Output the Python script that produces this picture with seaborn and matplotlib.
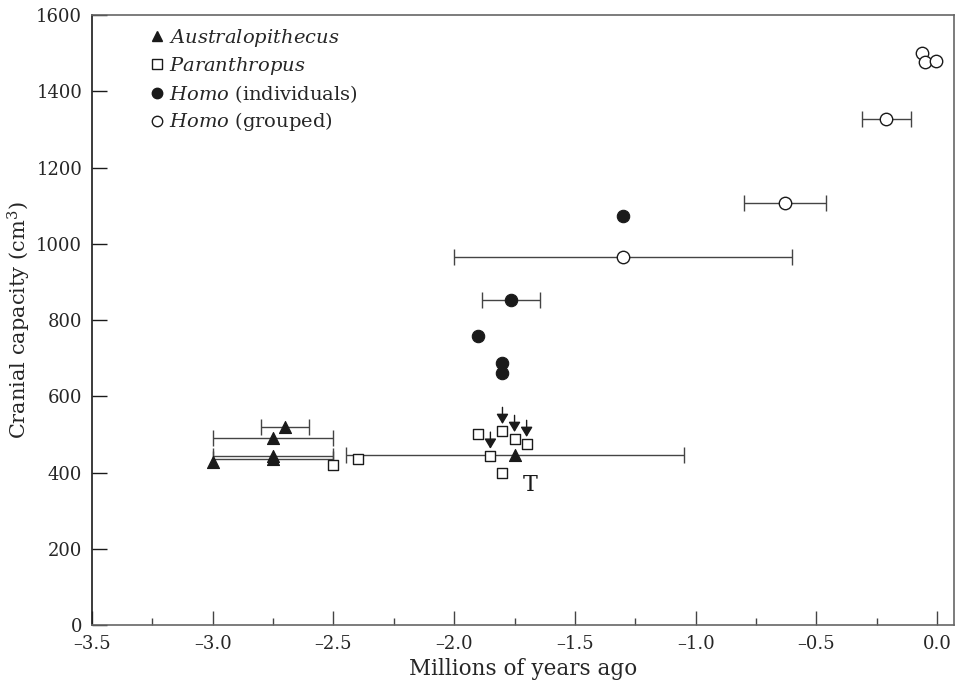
import numpy as np
import pandas as pd
import seaborn as sns
import matplotlib.pyplot as plt
from matplotlib.lines import Line2D
from matplotlib.ticker import MultipleLocator

# --- data (millions of years ago, cm3) ---
austr_x = [-2.70, -2.75, -2.75, -2.75, -3.00, -1.75]
austr_y = [520, 490, 443, 436, 428, 446]
austr_err = [0.10, 0.25, 0.25, 0.25, 0.0, 0.70]

paran_x = [-2.50, -2.40, -1.90, -1.85, -1.80, -1.75, -1.70, -1.80]
paran_y = [420, 435, 501, 444, 509, 488, 475, 399]
paran_arrow = [False, False, False, True, True, True, True, False]

homo_ind_x = [-1.765, -1.90, -1.80, -1.80, -1.30]
homo_ind_y = [853, 758, 687, 661, 1073]
homo_ind_err = [0.12, 0.0, 0.0, 0.0, 0.0]

homo_grp_x = [-1.30, -0.63, -0.21, -0.062, -0.05, -0.004]
homo_grp_y = [966, 1107, 1328, 1501, 1478, 1480]
homo_grp_err = [0.70, 0.17, 0.10, 0.0, 0.0, 0.0]

t_label_idx = 5  # the Australopithecus point marked "T"

sns.set_theme(style="ticks")
plt.rcParams['font.family'] = ['DejaVu Serif']
plt.rcParams['mathtext.fontset'] = 'dejavuserif'

fig = plt.figure(figsize=(9.57, 6.86), dpi=100)
ax = fig.add_axes([0.0961, 0.0889, 0.9008, 0.8892])

dark = '#1a1a1a'
barc = '#444444'

# error bars first so markers sit on top
def bars(xs, ys, errs):
    for x, y, e in zip(xs, ys, errs):
        if e > 0:
            ax.errorbar(x, y, xerr=e, fmt='none', ecolor=barc, elinewidth=1.0,
                        capsize=6, capthick=1.0, zorder=1)

bars(austr_x, austr_y, austr_err)
bars(homo_ind_x, homo_ind_y, homo_ind_err)
bars(homo_grp_x, homo_grp_y, homo_grp_err)

sns.scatterplot(x=austr_x, y=austr_y, marker='^', s=75, color=dark,
                edgecolor=dark, linewidth=0.8, ax=ax, zorder=3)
sns.scatterplot(x=paran_x, y=paran_y, marker='s', s=60, color='white',
                edgecolor=dark, linewidth=1.0, ax=ax, zorder=3)
sns.scatterplot(x=homo_ind_x, y=homo_ind_y, marker='o', s=80, color=dark,
                edgecolor=dark, linewidth=0.8, ax=ax, zorder=3)
sns.scatterplot(x=homo_grp_x, y=homo_grp_y, marker='o', s=80, color='white',
                edgecolor=dark, linewidth=1.0, ax=ax, zorder=3)

# arrows pointing down on some Paranthropus squares
for x, y, a in zip(paran_x, paran_y, paran_arrow):
    if a:
        ax.annotate('', xy=(x, y), xytext=(0, 17), textcoords='offset points',
                    xycoords='data',
                    arrowprops=dict(arrowstyle='-|>,head_width=0.3,head_length=0.5',
                                    color=dark, lw=1.0, shrinkA=0, shrinkB=5),
                    zorder=4)

ax.annotate('T', xy=(austr_x[t_label_idx], austr_y[t_label_idx]),
            xytext=(6, -26), textcoords='offset points', fontsize=16,
            color=dark)

ax.set_xlim(-3.5, 0.07)
ax.set_ylim(0, 1600)
ax.xaxis.set_minor_locator(MultipleLocator(0.25))
ax.yaxis.set_major_locator(MultipleLocator(200))
xt = np.arange(-3.5, 0.01, 0.5)
ax.set_xticks(xt)
ax.set_xticklabels([f"{v:.1f}".replace('-', '\u2013') for v in xt])

ax.tick_params(axis='x', which='major', direction='in', length=10, width=1,
               color=barc, labelsize=13, pad=7, top=False)
ax.tick_params(axis='x', which='minor', direction='in', length=5, width=1,
               color=barc, top=False)
ax.tick_params(axis='y', which='major', direction='in', length=11, width=1,
               color=dark, labelsize=13, pad=7, right=False)

for side in ['top', 'right', 'bottom']:
    ax.spines[side].set_color('#666666')
    ax.spines[side].set_linewidth(1.2)
ax.spines['left'].set_color(dark)
ax.spines['left'].set_linewidth(1.2)

ax.set_xlabel('Millions of years ago', fontsize=15.5, labelpad=4)
ax.set_ylabel('Cranial capacity (cm$^3$)', fontsize=15, labelpad=2)

handles = [
    Line2D([], [], ls='none', marker='^', ms=7, color=dark),
    Line2D([], [], ls='none', marker='s', ms=6.5, mfc='white', mec=dark, mew=1),
    Line2D([], [], ls='none', marker='o', ms=7.5, color=dark),
    Line2D([], [], ls='none', marker='o', ms=7.5, mfc='white', mec=dark, mew=1),
]
labels = [r'$\mathit{Australopithecus}$',
          r'$\mathit{Paranthropus}$',
          r'$\mathit{Homo}$ (individuals)',
          r'$\mathit{Homo}$ (grouped)']
ax.legend(handles, labels, loc='upper left', bbox_to_anchor=(0.06, 0.993),
          frameon=False, fontsize=14, handlelength=0.6, handletextpad=0.3,
          labelspacing=0.3, borderaxespad=0)

fig.savefig('out.png', dpi=100)
